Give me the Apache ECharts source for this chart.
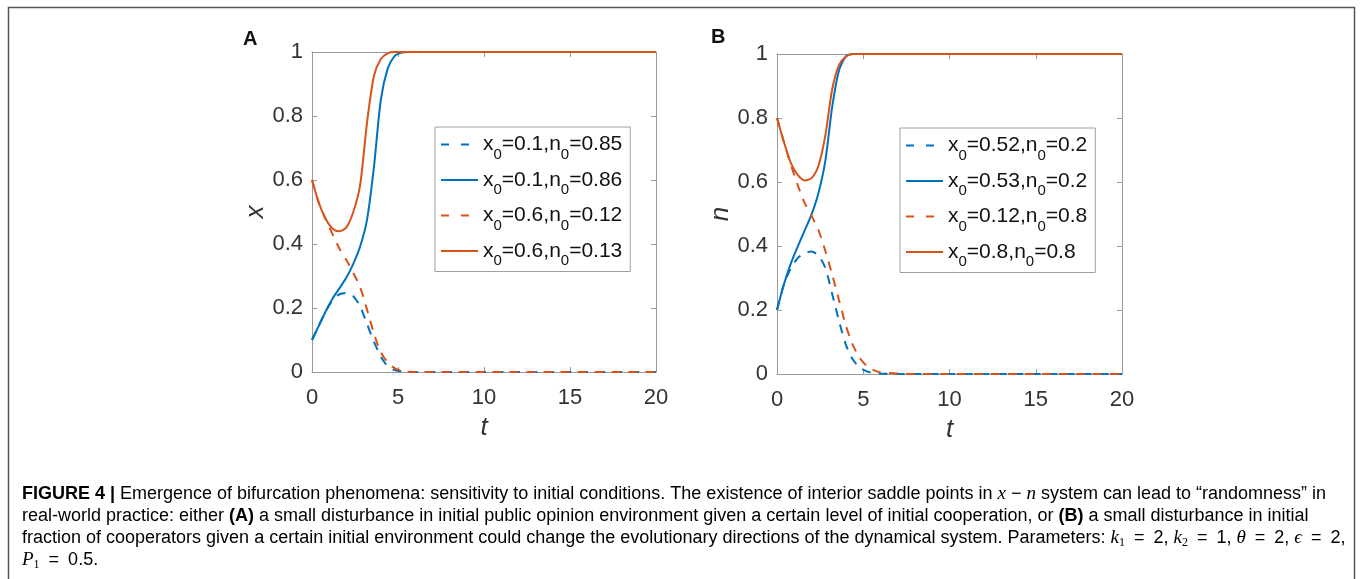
<!DOCTYPE html>
<html>
<head>
<meta charset="utf-8">
<script src="https://cdn.jsdelivr.net/npm/echarts@6/dist/echarts.min.js"></script>
<style>
html,body{margin:0;padding:0;background:#fff;}
#chart{width:1360px;height:579px;}
</style>
</head>
<body>
<div id="chart"></div>
<script>
// ---- data ----
const tValues = [0,0.4,0.8,1.2,1.6,2.0,2.4,2.8,3.2,3.6,4.0,4.4,4.8,5.2,5.6,6,8,10,12,14,16,18,20];

// Panel A: y = x
const namesA = ['x0=0.1,n0=0.85','x0=0.1,n0=0.86','x0=0.6,n0=0.12','x0=0.6,n0=0.13'];
const aBlueDash  = [0.10,0.145,0.19,0.225,0.243,0.247,0.237,0.205,0.15,0.095,0.048,0.018,0.006,0.002,0.001,0,0,0,0,0,0,0,0];
const aBlueSolid = [0.10,0.145,0.19,0.23,0.262,0.295,0.338,0.392,0.476,0.64,0.85,0.948,0.987,0.998,1,1,1,1,1,1,1,1,1];
const aRedDash   = [0.60,0.528,0.476,0.43,0.385,0.35,0.31,0.265,0.195,0.12,0.062,0.03,0.012,0.004,0.001,0,0,0,0,0,0,0,0];
const aRedSolid  = [0.60,0.528,0.478,0.448,0.44,0.452,0.50,0.585,0.78,0.925,0.978,0.996,1,1,1,1,1,1,1,1,1,1,1];

// Panel B: y = n
const namesB = ['x0=0.52,n0=0.2','x0=0.53,n0=0.2','x0=0.12,n0=0.8','x0=0.8,n0=0.8'];
const bBlueDash  = [0.20,0.28,0.33,0.362,0.378,0.383,0.37,0.332,0.25,0.165,0.09,0.045,0.02,0.008,0.003,0.001,0,0,0,0,0,0,0];
const bBlueSolid = [0.20,0.28,0.345,0.398,0.448,0.498,0.565,0.665,0.835,0.95,0.993,1,1,1,1,1,1,1,1,1,1,1,1];
const bRedDash   = [0.80,0.725,0.655,0.59,0.535,0.495,0.45,0.385,0.31,0.23,0.15,0.09,0.05,0.025,0.012,0.005,0,0,0,0,0,0,0];
const bRedSolid  = [0.80,0.725,0.66,0.622,0.605,0.612,0.65,0.745,0.89,0.966,0.992,1,1,1,1,1,1,1,1,1,1,1,1];

const xTicks = [0,5,10,15,20];
const yTicks = [0,0.2,0.4,0.6,0.8,1];

// ---- styling ----
const BLUE = '#0072BD', RED = '#D95319';
const AX = '#9a9a9a', TXT = '#333333';
const FONT = 'Liberation Sans, Arial, sans-serif';
const DASH = [9, 8];

function pairs(arr){ return tValues.map((t,i)=>[t, arr[i]]); }

function legendLabel(name){
  return name.split(',').map(p=>{
    const m = p.match(/^([xn])0=(.*)$/);
    return '{m|' + m[1] + '}{s|0}{m|=' + m[2] + '}';
  }).join('{m|,}');
}

const chart = echarts.init(document.getElementById('chart'), null, {renderer:'canvas'});

const grids = [
  {left:312, top:52, width:344, height:320},
  {left:777, top:54, width:345, height:320}
];

function xAx(gi, pos){
  const main = pos === 'bottom';
  return {
    type:'value', gridIndex:gi, position:pos, min:xTicks[0], max:xTicks[xTicks.length-1], interval:xTicks[1]-xTicks[0],
    name: main ? 't' : '', nameLocation:'middle', nameGap:43,
    nameTextStyle:{fontSize:26, fontStyle:'italic', color:TXT, fontFamily:FONT},
    axisLine:{show:true, onZero:false, lineStyle:{color:AX, width:1}},
    axisTick:{show:true, inside:true, length:5, lineStyle:{color:AX}},
    axisLabel:{show:main, fontSize:22, color:TXT, fontFamily:FONT, margin:15},
    splitLine:{show:false}
  };
}
function yAx(gi, pos, nm){
  const main = pos === 'left';
  return {
    type:'value', gridIndex:gi, position:pos, min:yTicks[0], max:yTicks[yTicks.length-1], interval:0.2,
    name: main ? nm : '', nameLocation:'middle', nameGap:43,
    nameTextStyle:{fontSize:26, fontStyle:'italic', color:TXT, fontFamily:FONT},
    axisLine:{show:true, onZero:false, lineStyle:{color:AX, width:1}},
    axisTick:{show:true, inside:true, length:5, lineStyle:{color:AX}},
    axisLabel:{show:main, fontSize:22, color:TXT, fontFamily:FONT, margin:9},
    splitLine:{show:false}
  };
}

function line(name, data, color, dashed, xi, yi){
  return {
    type:'line', name:name, xAxisIndex:xi, yAxisIndex:yi,
    data:pairs(data), showSymbol:false, symbol:'none', smooth:0.25,
    lineStyle:{color:color, width:2, type: dashed ? DASH : 'solid'},
    itemStyle:{color:color}, emphasis:{disabled:true}, silent:true, animation:false
  };
}

function legend(names, left, top){
  return {
    left:left, top:top, orient:'vertical', selectedMode:false,
    itemWidth:37, itemHeight:35, itemGap:0.5,
    padding:[0,8,3,5],
    borderColor:'#a0a0a0', borderWidth:1, backgroundColor:'#fff',
    itemStyle:{opacity:0, color:'rgba(0,0,0,0)', borderWidth:0},
    data: names.map((n,i)=>({name:n,
      itemStyle:{opacity:0, color:'rgba(0,0,0,0)', borderWidth:0},
      lineStyle:{type: i%2===0 ? [8,12] : 'solid', width:2, opacity:1}})),
    formatter: legendLabel,
    textStyle:{
      color:'#111', fontFamily:FONT, fontSize:21, lineHeight:35,
      rich:{
        m:{fontSize:21, color:'#111', fontFamily:FONT, verticalAlign:'middle'},
        s:{fontSize:15, lineHeight:8, color:'#111', fontFamily:FONT, verticalAlign:'bottom'}
      }
    }
  };
}

// caption rich styles
const CAP = 18;
const EQ = '\u2002=\u2002';
const capRich = {
  r:{fontSize:CAP, fontFamily:FONT, color:'#2a2a2a', lineHeight:22},
  b:{fontSize:CAP, fontFamily:FONT, color:'#2a2a2a', fontWeight:'bold', lineHeight:22},
  i:{fontSize:CAP+1, fontFamily:'Liberation Serif, serif', fontStyle:'italic', color:'#2a2a2a', lineHeight:22},
  sub:{fontSize:12, fontFamily:'Liberation Serif, serif', color:'#2a2a2a', lineHeight:12, verticalAlign:'bottom'}
};
const capLines = [
  '{b|FIGURE 4 | }{r|Emergence of bifurcation phenomena: sensitivity to initial conditions. The existence of interior saddle points in }{i|x}{r| − }{i|n}{r| system can lead to “randomness” in}',
  '{r|real-world practice: either }{b|(A)}{r| a small disturbance in initial public opinion environment given a certain level of initial cooperation, or }{b|(B)}{r| a small disturbance in initial}',
  '{r|fraction of cooperators given a certain initial environment could change the evolutionary directions of the dynamical system. Parameters: }{i|k}{sub|1}{r|'+EQ+'2, }{i|k}{sub|2}{r|'+EQ+'1, }{i|θ}{r|'+EQ+'2, }{i|ϵ}{r|'+EQ+'2,}',
  '{i|P}{sub|1}{r|'+EQ+'0.5.}'
];
const capY = [494, 516, 538, 560];

const option = {
  animation:false,
  grid: grids.map(g=>Object.assign({containLabel:false}, g)),
  xAxis:[xAx(0,'bottom'), xAx(0,'top'), xAx(1,'bottom'), xAx(1,'top')],
  yAxis:[yAx(0,'left','x'), yAx(0,'right',''), yAx(1,'left','n'), yAx(1,'right','')],
  legend:[legend(namesA, 435, 127), legend(namesB, 900, 128)],
  series:[
    line(namesA[0], aBlueDash, BLUE, true, 0, 0),
    line(namesA[1], aBlueSolid, BLUE, false, 0, 0),
    line(namesA[2], aRedDash, RED, true, 0, 0),
    line(namesA[3], aRedSolid, RED, false, 0, 0),
    line(namesB[0], bBlueDash, BLUE, true, 2, 2),
    line(namesB[1], bBlueSolid, BLUE, false, 2, 2),
    line(namesB[2], bRedDash, RED, true, 2, 2),
    line(namesB[3], bRedSolid, RED, false, 2, 2)
  ],
  graphic:[
    {type:'rect', silent:true, shape:{x:8.5, y:7.5, width:1346, height:620},
     style:{fill:'none', stroke:'#555', lineWidth:1.5}},
    {type:'text', left:243, top:29, style:{text:'A', font:'bold 20px '+FONT, fill:'#111'}},
    {type:'text', left:711, top:27, style:{text:'B', font:'bold 20px '+FONT, fill:'#111'}}
  ].concat(capLines.map((s,i)=>({
    type:'text', x:22, y:capY[i], silent:true,
    style:{text:s, rich:capRich, verticalAlign:'middle', align:'left'}
  })))
};
chart.setOption(option);
</script>
</body>
</html>
